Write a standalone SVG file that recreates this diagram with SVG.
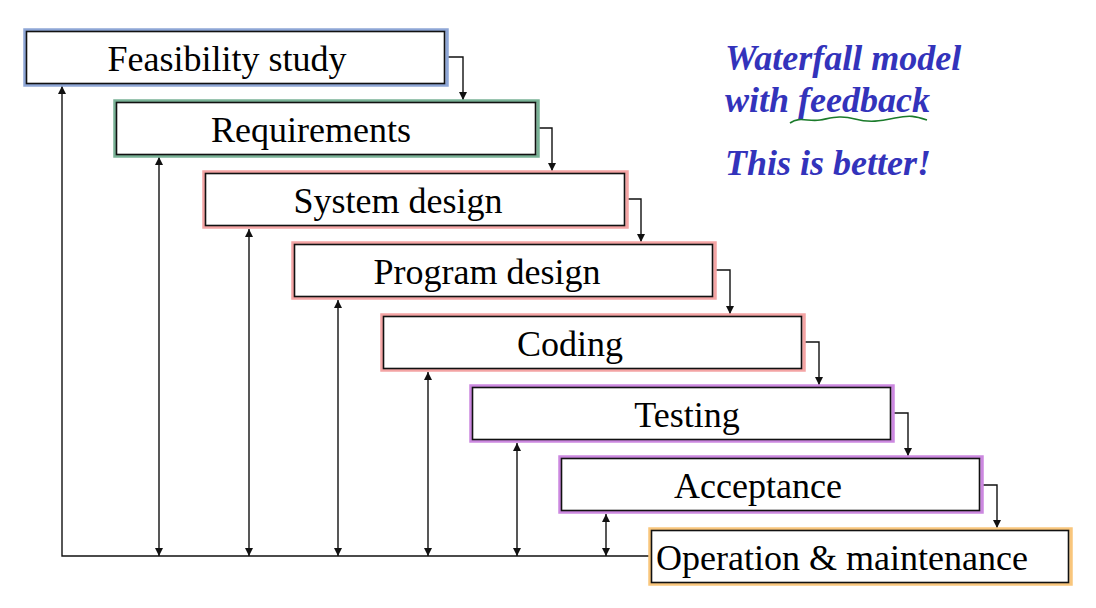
<svg xmlns="http://www.w3.org/2000/svg" width="1096" height="608" viewBox="0 0 1096 608">
<style>
.lbl{font-family:"Liberation Serif","Times New Roman",serif;font-size:36px;fill:#000;text-anchor:middle}
.ttl{font-family:"Liberation Serif","Times New Roman",serif;font-size:36px;font-weight:bold;font-style:italic;fill:#3333bb}
.in{fill:#fff;stroke:#111;stroke-width:1.6}
.c{fill:none;stroke:#111;stroke-width:1.4}
</style>
<defs>
<marker id="ah" viewBox="0 0 10 10" refX="10" refY="5" markerWidth="8" markerHeight="8" markerUnits="userSpaceOnUse" orient="auto-start-reverse">
<path d="M0,0 L10,5 L0,10 z" fill="#111"/>
</marker>
</defs>
<rect width="1096" height="608" fill="#fff"/>
<g id="connectors">
<path class="c" d="M447,57 H463 V100" marker-end="url(#ah)"/>
<path class="c" d="M538,128 H552 V171" marker-end="url(#ah)"/>
<path class="c" d="M627,199 H641 V242" marker-end="url(#ah)"/>
<path class="c" d="M715,270 H730 V314" marker-end="url(#ah)"/>
<path class="c" d="M804,342 H819 V385" marker-end="url(#ah)"/>
<path class="c" d="M893,413 H908 V456" marker-end="url(#ah)"/>
<path class="c" d="M982,485 H997 V528" marker-end="url(#ah)"/>
<path class="c" d="M650,556 H62 V86" marker-end="url(#ah)"/>
<path class="c" d="M159,157 V556" marker-start="url(#ah)" marker-end="url(#ah)"/>
<path class="c" d="M249,229 V556" marker-start="url(#ah)" marker-end="url(#ah)"/>
<path class="c" d="M338,300 V556" marker-start="url(#ah)" marker-end="url(#ah)"/>
<path class="c" d="M428,372 V556" marker-start="url(#ah)" marker-end="url(#ah)"/>
<path class="c" d="M517,443 V556" marker-start="url(#ah)" marker-end="url(#ah)"/>
<path class="c" d="M606,514 V556" marker-start="url(#ah)" marker-end="url(#ah)"/>
</g>
<g id="feasibility">
<rect x="25" y="30" width="422" height="55" fill="#fff" stroke="#8ea6d6" stroke-width="3.5"/>
<rect class="in" x="26.5" y="31.5" width="418" height="52"/>
<text class="lbl" x="227" y="71">Feasibility study</text>
</g>
<g id="requirements">
<rect x="115" y="101" width="423" height="55" fill="#fff" stroke="#79b296" stroke-width="3.5"/>
<rect class="in" x="116.5" y="102.5" width="419" height="52"/>
<text class="lbl" x="311" y="142">Requirements</text>
</g>
<g id="system-design">
<rect x="204" y="172" width="423" height="55" fill="#fff" stroke="#f4a4a4" stroke-width="3.5"/>
<rect class="in" x="205.5" y="173.5" width="419" height="52"/>
<text class="lbl" x="398" y="213">System design</text>
</g>
<g id="program-design">
<rect x="293" y="243" width="422" height="55" fill="#fff" stroke="#f4a4a4" stroke-width="3.5"/>
<rect class="in" x="294.5" y="244.5" width="418" height="52"/>
<text class="lbl" x="487" y="284">Program design</text>
</g>
<g id="coding">
<rect x="382" y="315" width="422" height="55" fill="#fff" stroke="#f4a4a4" stroke-width="3.5"/>
<rect class="in" x="383.5" y="316.5" width="418" height="52"/>
<text class="lbl" x="570" y="356">Coding</text>
</g>
<g id="testing">
<rect x="471" y="386" width="422" height="55" fill="#fff" stroke="#cc88e0" stroke-width="3.5"/>
<rect class="in" x="472.5" y="387.5" width="418" height="52"/>
<text class="lbl" x="687" y="427">Testing</text>
</g>
<g id="acceptance">
<rect x="560" y="457" width="422" height="55" fill="#fff" stroke="#cc88e0" stroke-width="3.5"/>
<rect class="in" x="561.5" y="458.5" width="418" height="52"/>
<text class="lbl" x="758" y="498">Acceptance</text>
</g>
<g id="operation">
<rect x="650" y="529" width="421" height="55" fill="#fff" stroke="#f9c67c" stroke-width="3.5"/>
<rect class="in" x="651.5" y="530.5" width="417" height="52"/>
<text class="lbl" x="842" y="570">Operation &amp; maintenance</text>
</g>
<g id="title">
<text class="ttl" x="725" y="70">Waterfall model</text>
<text class="ttl" x="725" y="112">with feedback</text>
<path d="M790,123 C800,116 808,122 820,120 S840,115 855,119 S880,121 895,118 S915,116 927,120" fill="none" stroke="#1a7a2a" stroke-width="1.6"/>
<text class="ttl" x="725" y="175">This is better!</text>
</g>
</svg>
